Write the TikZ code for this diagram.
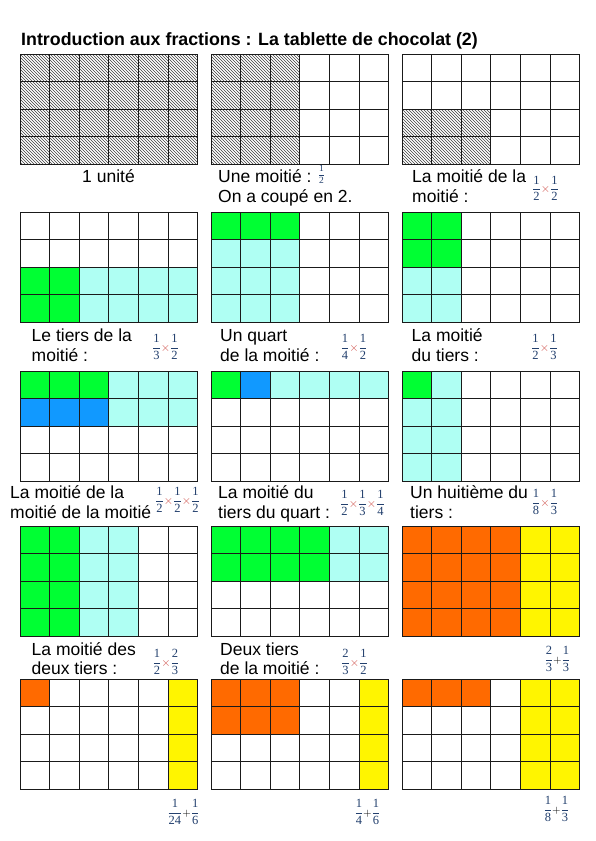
\documentclass[tikz,border=0pt]{standalone}
\usepackage{amsmath}
\usepackage{fontspec}
\setmainfont{Liberation Sans}
\newfontfamily\serifnum{Liberation Serif}
\usetikzlibrary{patterns}
\definecolor{cVert}{HTML}{00FF33}
\definecolor{cCyan}{HTML}{AFFFF3}
\definecolor{cBleu}{HTML}{1199FF}
\definecolor{cOrange}{HTML}{FF6A00}
\definecolor{cJaune}{HTML}{FFF500}
\definecolor{cFrac}{HTML}{23406E}
\definecolor{cFois}{HTML}{D0504A}
\definecolor{cTrait}{HTML}{1A1A1A}
\newcommand\celw{29.6pt}
\newcommand\celh{27.6pt}
\newcommand\fr[2]{$\genfrac{}{}{0.4pt}{0}{\mbox{#1}}{\mbox{#2}}$}
\newcommand\fois{{\color{cFois}\fontsize{11.5}{11.5}\selectfont$\times$}}
\newcommand\plus{{\color{black}\fontsize{10.5}{10.5}\selectfont$+$}}
\newcommand\tablette[3]{%
  \begin{scope}[shift={(#1,#2)}, x=\celw, y=-\celh]
    #3
    \foreach \i in {0,...,6}{\draw[ligne] (\i,0) -- (\i,4);}
    \foreach \j in {0,...,4}{\draw[ligne] (0,\j) -- (6,\j);}
  \end{scope}}
\tikzset{
    ligne/.style={draw=cTrait, line width=0.9pt, line cap=rect},
    hach/.style={pattern=north west lines, pattern color=black!75},
    vert/.style={fill=cVert},
    cyan/.style={fill=cCyan},
    bleu/.style={fill=cBleu},
    orange/.style={fill=cOrange},
    jaune/.style={fill=cJaune},
    etiq/.style={font=\fontsize{17.5}{20}\selectfont, anchor=base west, inner sep=0pt},
    titre/.style={etiq, font=\fontsize{17.8}{20}\selectfont\bfseries},
    frac/.style={font=\fontsize{12.5}{14}\selectfont\serifnum, text=cFrac, inner sep=0pt},
    petitfrac/.style={frac, font=\fontsize{9.5}{11}\selectfont\serifnum},
}

\begin{document}
\begin{tikzpicture}[x=1pt, y=-1pt]

\fill[white] (0,0) rectangle (595,841);
\useasboundingbox (0,0) rectangle (595,841);

\node[titre] (titre) at (21,45) {Introduction aux fractions : La tablette de chocolat (2)};

% rangee 1
\tablette{20}{54}{\fill[hach] (0,0) rectangle (6,4);}
\tablette{211}{54}{\fill[hach] (0,0) rectangle (3,4);}
\tablette{402}{54}{\fill[hach] (0,2) rectangle (3,4);}

% rangee 2
\tablette{20}{212}{\fill[vert] (0,2) rectangle (2,4); \fill[cyan] (2,2) rectangle (6,4);}
\tablette{211}{212}{\fill[vert] (0,0) rectangle (3,1); \fill[cyan] (0,1) rectangle (3,4);}
\tablette{402}{212}{\fill[vert] (0,0) rectangle (2,2); \fill[cyan] (0,2) rectangle (2,4);}

% rangee 3
\tablette{20}{371}{\fill[vert] (0,0) rectangle (3,1); \fill[bleu] (0,1) rectangle (3,2);
  \fill[cyan] (3,0) rectangle (6,2);}
\tablette{211}{371}{\fill[vert] (0,0) rectangle (1,1); \fill[bleu] (1,0) rectangle (2,1);
  \fill[cyan] (2,0) rectangle (6,1);}
\tablette{402}{371}{\fill[cyan] (0,0) rectangle (2,4); \fill[vert] (0,0) rectangle (1,1);}

% rangee 4
\tablette{20}{526}{\fill[vert] (0,0) rectangle (2,4); \fill[cyan] (2,0) rectangle (4,4);}
\tablette{211}{526}{\fill[vert] (0,0) rectangle (4,2); \fill[cyan] (4,0) rectangle (6,2);}
\tablette{402}{526}{\fill[orange] (0,0) rectangle (4,4); \fill[jaune] (4,0) rectangle (6,4);}

% rangee 5
\tablette{20}{679}{\fill[orange] (0,0) rectangle (1,1); \fill[jaune] (5,0) rectangle (6,4);}
\tablette{211}{679}{\fill[orange] (0,0) rectangle (3,2); \fill[jaune] (5,0) rectangle (6,4);}
\tablette{402}{679}{\fill[orange] (0,0) rectangle (3,1); \fill[jaune] (4,0) rectangle (6,4);}

\node[etiq, anchor=base] (e1) at (108.5,182) {1 unité};
\node[etiq] (e2a) at (218,182) {Une moitié :};
\node[petitfrac] (f2) at (321.5,174) {\fr12};
\node[etiq] (e2b) at (218,202) {On a coupé en 2.};
\node[etiq] (e3a) at (412,182) {La moitié de la};
\node[etiq] (e3b) at (412,202) {moitié :};
\node[frac] (f3) at (545.5,188.5) {\fr12\fois\fr12};

\node[etiq] (e4a) at (31.5,341) {Le tiers de la};
\node[etiq] (e4b) at (31.5,361) {moitié :};
\node[frac] (f4) at (165.5,347) {\fr13\fois\fr12};
\node[etiq] (e5a) at (220,341) {Un quart};
\node[etiq] (e5b) at (220,361) {de la moitié :};
\node[frac] (f5) at (354,347) {\fr14\fois\fr12};
\node[etiq] (e6a) at (411.5,341) {La moitié};
\node[etiq] (e6b) at (411.5,361) {du tiers :};
\node[frac] (f6) at (544.5,347) {\fr12\fois\fr13};

\node[etiq] (e7a) at (10,498) {La moitié de la};
\node[etiq] (e7b) at (10,518) {moitié de la moitié};
\node[frac] (f7) at (177.5,500) {\fr12\fois\fr12\fois\fr12};
\node[etiq] (e8a) at (218,498) {La moitié du};
\node[etiq] (e8b) at (218,518) {tiers du quart :};
\node[frac] (f8) at (362.5,503) {\fr12\fois\fr13\fois\fr14};
\node[etiq] (e9a) at (410,498) {Un huitième du};
\node[etiq] (e9b) at (410,518) {tiers :};
\node[frac] (f9) at (545,502) {\fr18\fois\fr13};

\node[etiq] (e10a) at (31.5,655) {La moitié des};
\node[etiq] (e10b) at (31.5,674) {deux tiers :};
\node[frac] (f10) at (166,662) {\fr12\fois\fr23};
\node[etiq] (e11a) at (220,655) {Deux tiers};
\node[etiq] (e11b) at (220,674) {de la moitié :};
\node[frac] (f11) at (354.5,662) {\fr23\fois\fr12};
\node[frac] (f12) at (557.5,659) {\fr23\plus\fr13};

\node[frac] (f13) at (183.5,812) {\fr1{24}\plus\fr16};
\node[frac] (f14) at (367.5,812) {\fr14\plus\fr16};
\node[frac] (f15) at (556.5,809) {\fr18\plus\fr13};

\end{tikzpicture}
\end{document}
